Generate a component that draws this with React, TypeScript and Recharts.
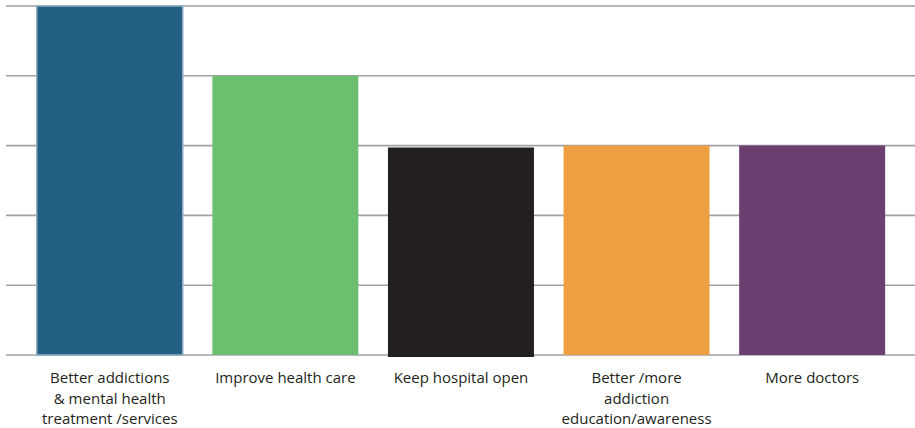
import { BarChart, Bar, XAxis, YAxis, CartesianGrid, Cell, Rectangle } from 'recharts';

const categories = [
  'Better addictions\n& mental health\ntreatment /services',
  'Improve health care',
  'Keep hospital open',
  'Better /more\naddiction\neducation/awareness',
  'More doctors',
];

const responses = [5, 4, 3, 3, 3];

const barColors = ['#236083', '#6cbf6e', '#231f20', '#ee9f41', '#6b3f70'];

const yTicks = [0, 1, 2, 3, 4, 5];

const data = categories.map((name, i) => ({ name, value: responses[i] }));

const CategoryTick = (props: any) => {
  const { x, y, payload } = props;
  const lines = String(payload.value).split('\n');
  return (
    <text x={x} y={y} textAnchor="middle" fill="#231f20" fontSize={15} fontFamily="'Open Sans', sans-serif">
      {lines.map((line, i) => (
        <tspan key={i} x={x} dy={i === 0 ? 20 : 20.7}>
          {line}
        </tspan>
      ))}
    </text>
  );
};

// first bar has a pale outline, the third sits a couple of pixels low
const ColumnShape = (props: any) => {
  if (props.index === 0) {
    return <Rectangle {...props} stroke="#8eaec4" strokeWidth={1.5} />;
  }
  const shift = props.index === 2 ? 2 : 0;
  return <Rectangle {...props} y={props.y + shift} />;
};

export default function App() {
  return (
    <div style={{ position: 'absolute', left: 0, top: 0, width: 915, height: 428, background: '#fff' }}>
      <BarChart
        width={915}
        height={428}
        data={data}
        margin={{ top: 6, right: 0, left: 6, bottom: 0 }}
        barCategoryGap={14.75}
      >
        <CartesianGrid vertical={false} stroke="#9fa0aa" strokeWidth={1.6} />
        <XAxis
          dataKey="name"
          axisLine={false}
          tickLine={false}
          height={73}
          interval={0}
          padding={{ left: 16, right: 15 }}
          tick={<CategoryTick />}
        />
        <YAxis hide domain={[0, 5]} ticks={yTicks} />
        <Bar dataKey="value" isAnimationActive={false} shape={<ColumnShape />}>
          {data.map((_, i) => (
            <Cell key={i} fill={barColors[i]} />
          ))}
        </Bar>
      </BarChart>
    </div>
  );
}
